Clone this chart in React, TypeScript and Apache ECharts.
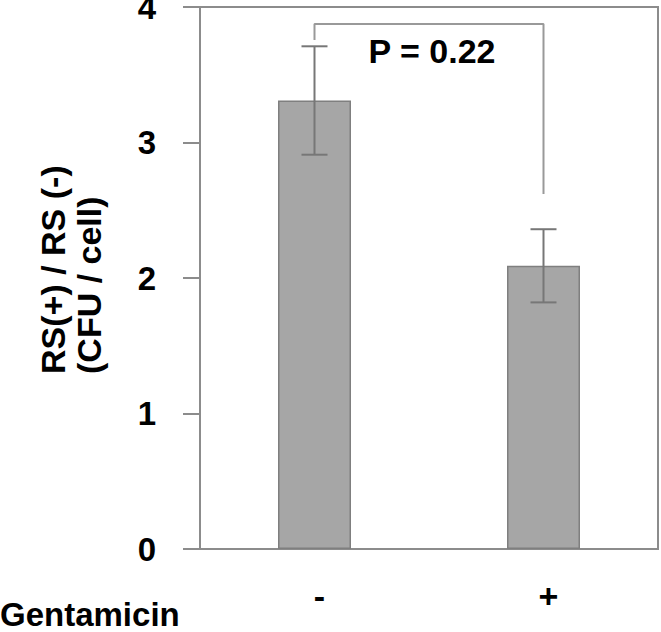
import React, { useEffect, useRef } from "react";
import * as echarts from "echarts";

const categories = ["-", "+"];
const means = [3.31, 2.09];
const errLow = [2.91, 1.82];
const errHigh = [3.71, 2.36];
const yTicks = [0, 1, 2, 3, 4];
const bracket = [
  [0, 3.757],
  [0, 3.875],
  [1, 3.875],
  [1, 2.62],
];
const pText = "P = 0.22";
const yTitle1 = "RS(+) / RS (-)";
const yTitle2 = "(CFU / cell)";
const xTitle = "Gentamicin";

const FONT = "'Liberation Sans', Arial, Helvetica, sans-serif";
const LINE = "#8c8c8c";

export default function App() {
  const ref = useRef<HTMLDivElement>(null);
  useEffect(() => {
    if (!ref.current) return;
    const chart = echarts.init(ref.current, null, { renderer: "svg" });
    chart.setOption({
      animation: false,
      backgroundColor: "#ffffff",
      grid: {
        left: 200,
        right: 3,
        top: 7,
        bottom: 83,
        containLabel: false,
        outerBoundsMode: "none",
        show: true,
        borderColor: LINE,
        borderWidth: 2,
      },
      xAxis: {
        type: "category",
        data: categories,
        axisLine: { show: true, lineStyle: { color: LINE, width: 2 } },
        axisTick: { show: false },
        axisLabel: {
          margin: 30,
          padding: [0, 0, 0, 10],
          fontSize: 34,
          fontWeight: "bold",
          fontFamily: FONT,
          color: "#000",
        },
      },
      yAxis: {
        type: "value",
        min: 0,
        max: 4,
        interval: 1,
        splitLine: { show: false },
        axisLine: { show: true, lineStyle: { color: LINE, width: 2 } },
        axisTick: { show: true, length: 17, lineStyle: { color: LINE, width: 2 } },
        axisLabel: {
          margin: 44,
          fontSize: 33,
          fontWeight: "bold",
          fontFamily: FONT,
          color: "#000",
          formatter: (v: number) => (yTicks.includes(v) ? String(v) : ""),
        },
      },
      series: [
        {
          type: "bar",
          data: means,
          barWidth: 73,
          itemStyle: { color: "#a6a6a6", borderColor: "#7f7f7f", borderWidth: 1.5 },
          z: 2,
        },
        {
          type: "custom",
          data: categories.map((_, i) => [i, errLow[i], errHigh[i]]),
          z: 3,
          renderItem: (params: any, api: any) => {
            const x = api.value(0);
            const lo = api.coord([x, api.value(1)]);
            const hi = api.coord([x, api.value(2)]);
            const half = 13;
            const style = { stroke: "#777777", lineWidth: 2 };
            return {
              type: "group",
              children: [
                { type: "line", shape: { x1: hi[0], y1: hi[1], x2: lo[0], y2: lo[1] }, style },
                { type: "line", shape: { x1: hi[0] - half, y1: hi[1], x2: hi[0] + half, y2: hi[1] }, style },
                { type: "line", shape: { x1: lo[0] - half, y1: lo[1], x2: lo[0] + half, y2: lo[1] }, style },
              ],
            };
          },
        },
        {
          type: "line",
          data: bracket,
          symbol: "none",
          lineStyle: { color: "#999999", width: 2 },
          z: 4,
        },
      ],
      graphic: [
        {
          type: "text",
          x: 432,
          y: 51,
          style: {
            text: pText,
            fontSize: 34,
            fontWeight: "bold",
            fontFamily: FONT,
            fill: "#000",
            align: "center",
            verticalAlign: "middle",
          },
        },
        {
          type: "text",
          x: 53,
          y: 374,
          rotation: Math.PI / 2,
          style: {
            text: yTitle1,
            fontSize: 34,
            fontWeight: "bold",
            fontFamily: FONT,
            fill: "#000",
            align: "left",
            verticalAlign: "middle",
          },
        },
        {
          type: "text",
          x: 89,
          y: 374,
          rotation: Math.PI / 2,
          style: {
            text: yTitle2,
            fontSize: 34,
            fontWeight: "bold",
            fontFamily: FONT,
            fill: "#000",
            align: "left",
            verticalAlign: "middle",
          },
        },
        {
          type: "text",
          x: 0,
          y: 614,
          style: {
            text: xTitle,
            fontSize: 33,
            fontWeight: "bold",
            fontFamily: FONT,
            fill: "#000",
            align: "left",
            verticalAlign: "middle",
          },
        },
      ],
    });
    return () => chart.dispose();
  }, []);
  return (
    <div
      ref={ref}
      style={{ position: "absolute", left: 0, top: 0, width: 661, height: 632 }}
    />
  );
}
